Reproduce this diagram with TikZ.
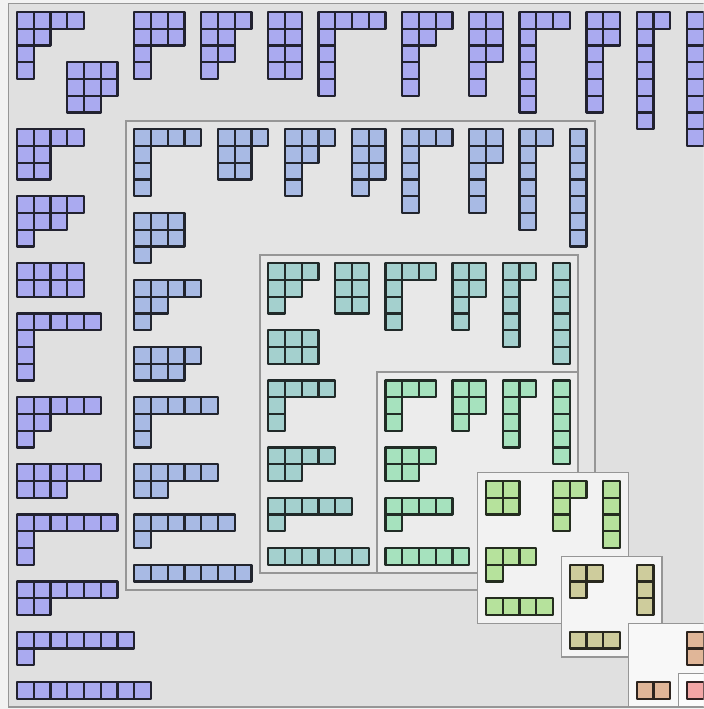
\documentclass[tikz,border=0pt]{standalone}

\definecolor{outside}{RGB}{242,242,242}
\definecolor{framegray}{RGB}{150,150,150}
\definecolor{boxeight}{RGB}{224,224,224}
\definecolor{boxseven}{RGB}{228,228,228}
\definecolor{boxsix}{RGB}{232,232,232}
\definecolor{boxfive}{RGB}{236,236,236}
\definecolor{boxfour}{RGB}{242,242,242}
\definecolor{boxthree}{RGB}{245,245,245}
\definecolor{boxtwo}{RGB}{248,248,248}
\definecolor{boxone}{RGB}{252,252,252}
\definecolor{eight}{RGB}{170,170,240}
\definecolor{seven}{RGB}{168,186,228}
\definecolor{six}{RGB}{164,208,206}
\definecolor{five}{RGB}{166,226,190}
\definecolor{four}{RGB}{182,226,156}
\definecolor{three}{RGB}{206,204,156}
\definecolor{two}{RGB}{224,182,152}
\definecolor{one}{RGB}{242,166,166}

\tikzset{
  frame/.style={draw=framegray, line width=1.2pt},
  cell/.style={line width=1.9pt, line join=round}
}

\newcommand{\ydiag}[4]{%
  \foreach \ydlen [count=\ydrow from 0] in {#4} {%
    \foreach \ydcol in {1,...,\ydlen} {%
      \filldraw[cell, fill=#3, draw=#3!20!black] ({#1+\ydcol-1},{#2+\ydrow}) rectangle ++(1,1);
    }%
  }%
}

\begin{document}
\begin{tikzpicture}[x=0.5cm, y=-0.5cm]
\fill[outside] (-1.015,-0.716) rectangle (40.99,41.61);
\useasboundingbox (-1.015,-0.716) rectangle (40.99,41.61);
\clip (-1.015,-0.716) rectangle (40.99,41.61);
\filldraw[frame, fill=boxeight] (-0.5,-0.5) rectangle (41.5,41.5);
\ydiag{0}{0}{eight}{4,2,1,1}
\ydiag{3}{3}{eight}{3,3,2}
\ydiag{7}{0}{eight}{3,3,1,1}
\ydiag{11}{0}{eight}{3,2,2,1}
\ydiag{15}{0}{eight}{2,2,2,2}
\ydiag{18}{0}{eight}{4,1,1,1,1}
\ydiag{23}{0}{eight}{3,2,1,1,1}
\ydiag{27}{0}{eight}{2,2,2,1,1}
\ydiag{30}{0}{eight}{3,1,1,1,1,1}
\ydiag{34}{0}{eight}{2,2,1,1,1,1}
\ydiag{37}{0}{eight}{2,1,1,1,1,1,1}
\ydiag{40}{0}{eight}{1,1,1,1,1,1,1,1}
\ydiag{0}{7}{eight}{4,2,2}
\ydiag{0}{11}{eight}{4,3,1}
\ydiag{0}{15}{eight}{4,4}
\ydiag{0}{18}{eight}{5,1,1,1}
\ydiag{0}{23}{eight}{5,2,1}
\ydiag{0}{27}{eight}{5,3}
\ydiag{0}{30}{eight}{6,1,1}
\ydiag{0}{34}{eight}{6,2}
\ydiag{0}{37}{eight}{7,1}
\ydiag{0}{40}{eight}{8}
\filldraw[frame, fill=boxseven] (6.5,6.5) rectangle (34.5,34.5);
\ydiag{7}{7}{seven}{4,1,1,1}
\ydiag{12}{7}{seven}{3,2,2}
\ydiag{16}{7}{seven}{3,2,1,1}
\ydiag{20}{7}{seven}{2,2,2,1}
\ydiag{23}{7}{seven}{3,1,1,1,1}
\ydiag{27}{7}{seven}{2,2,1,1,1}
\ydiag{30}{7}{seven}{2,1,1,1,1,1}
\ydiag{33}{7}{seven}{1,1,1,1,1,1,1}
\ydiag{7}{12}{seven}{3,3,1}
\ydiag{7}{16}{seven}{4,2,1}
\ydiag{7}{20}{seven}{4,3}
\ydiag{7}{23}{seven}{5,1,1}
\ydiag{7}{27}{seven}{5,2}
\ydiag{7}{30}{seven}{6,1}
\ydiag{7}{33}{seven}{7}
\filldraw[frame, fill=boxsix] (14.5,14.5) rectangle (33.5,33.5);
\ydiag{15}{15}{six}{3,2,1}
\ydiag{19}{15}{six}{2,2,2}
\ydiag{22}{15}{six}{3,1,1,1}
\ydiag{26}{15}{six}{2,2,1,1}
\ydiag{29}{15}{six}{2,1,1,1,1}
\ydiag{32}{15}{six}{1,1,1,1,1,1}
\ydiag{15}{19}{six}{3,3}
\ydiag{15}{22}{six}{4,1,1}
\ydiag{15}{26}{six}{4,2}
\ydiag{15}{29}{six}{5,1}
\ydiag{15}{32}{six}{6}
\filldraw[frame, fill=boxfive] (21.5,21.5) rectangle (33.5,33.5);
\ydiag{22}{22}{five}{3,1,1}
\ydiag{26}{22}{five}{2,2,1}
\ydiag{29}{22}{five}{2,1,1,1}
\ydiag{32}{22}{five}{1,1,1,1,1}
\ydiag{22}{26}{five}{3,2}
\ydiag{22}{29}{five}{4,1}
\ydiag{22}{32}{five}{5}
\filldraw[frame, fill=boxfour] (27.5,27.5) rectangle (36.5,36.5);
\ydiag{28}{28}{four}{2,2}
\ydiag{32}{28}{four}{2,1,1}
\ydiag{35}{28}{four}{1,1,1,1}
\ydiag{28}{32}{four}{3,1}
\ydiag{28}{35}{four}{4}
\filldraw[frame, fill=boxthree] (32.5,32.5) rectangle (38.5,38.5);
\ydiag{33}{33}{three}{2,1}
\ydiag{37}{33}{three}{1,1,1}
\ydiag{33}{37}{three}{3}
\filldraw[frame, fill=boxtwo] (36.5,36.5) rectangle (41.5,41.5);
\ydiag{40}{37}{two}{1,1}
\ydiag{37}{40}{two}{2}
\filldraw[frame, fill=boxone] (39.5,39.5) rectangle (41.5,41.5);
\ydiag{40}{40}{one}{1}
\end{tikzpicture}
\end{document}
